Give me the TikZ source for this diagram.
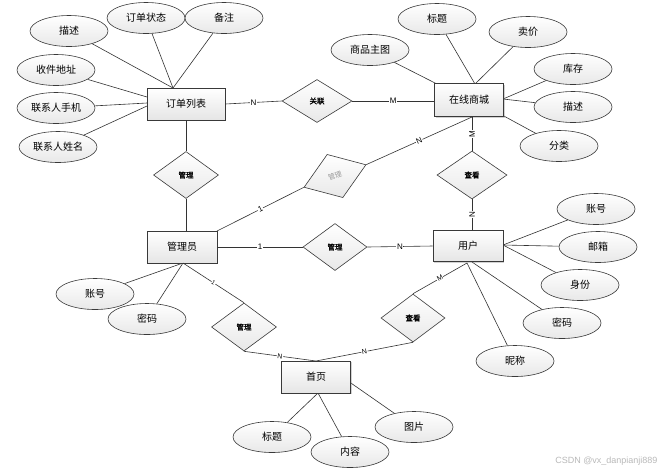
\documentclass[tikz,border=0pt]{standalone}
\usepackage{fontspec}
\setmainfont{Liberation Sans}
\newfontfamily\cjk{Noto Sans CJK SC}
\newfontfamily\cjkb[FakeBold=1.5]{Noto Sans CJK SC}
\usetikzlibrary{shapes.geometric,shadows}
\tikzset{
  ent/.style={draw=gray!45!black, line width=0.8pt, minimum width=70pt, minimum height=32pt,
    inner sep=0pt, top color=white, bottom color=gray!20,
    font=\cjk\fontsize{10}{12}\selectfont,
    drop shadow={shadow xshift=1.2pt, shadow yshift=-1.2pt, opacity=0.35}},
  attr/.style={ellipse, draw=gray!45!black, line width=0.6pt, minimum width=78pt, minimum height=31pt,
    inner sep=0pt, top color=white, bottom color=gray!18,
    font=\cjk\fontsize{10}{12}\selectfont},
  rel/.style={diamond, draw=gray!45!black, line width=0.6pt, minimum width=65pt, minimum height=47pt,
    inner sep=0pt, top color=white, bottom color=gray!18,
    font=\cjkb\fontsize{7.5}{8}\selectfont},
  conn/.style={draw=gray!40!black, line width=0.6pt},
  card/.style={fill=white, inner sep=0.6pt, font=\fontsize{8}{9}\selectfont},
  wm/.style={text=gray!55, font=\fontsize{9}{10}\selectfont}
}
\begin{document}
\begin{tikzpicture}[x=1pt,y=-1pt]
\useasboundingbox[fill=white] (0,0) rectangle (671,475);

% ---------- convergence points ----------
\coordinate (ordT) at (173,88);
\coordinate (ordL1) at (147,97);
\coordinate (ordL2) at (147,103);
\coordinate (ordL3) at (147,106);
\coordinate (mallTL) at (437,84);
\coordinate (mallT) at (475,84);
\coordinate (mallR) at (503,99);
\coordinate (mallBR) at (502,115);
\coordinate (mallB) at (472,117);
\coordinate (usrR) at (503,245);
\coordinate (usrB1) at (472,262);
\coordinate (usrB2) at (467,263);
\coordinate (admB) at (183,263);
\coordinate (homeT) at (316,361);
\coordinate (homeB) at (318,393);
\coordinate (homeR) at (348,381);
\coordinate (admTR) at (217,231);

% ---------- attribute lines (drawn first) ----------
\node[attr] (oDesc) at (69,31) {描述};
\node[attr] (oStat) at (146,18) {订单状态};
\node[attr] (oNote) at (224,18) {备注};
\node[attr] (oAddr) at (56,70) {收件地址};
\node[attr] (oPhone) at (56,108) {联系人手机};
\node[attr] (oName) at (58,147) {联系人姓名};

\node[attr] (mImg) at (370,50) {商品主图};
\node[attr] (mTitle) at (437,19) {标题};
\node[attr] (mPrice) at (528,32) {卖价};
\node[attr] (mStock) at (573,69) {库存};
\node[attr] (mDesc) at (573,107) {描述};
\node[attr] (mCat) at (559,146) {分类};

\node[attr] (uAcc) at (596,209) {账号};
\node[attr] (uMail) at (598,247) {邮箱};
\node[attr] (uRole) at (580,285) {身份};
\node[attr] (uPwd) at (562,323) {密码};
\node[attr] (uNick) at (515,361) {昵称};

\node[attr] (aAcc) at (95,294) {账号};
\node[attr] (aPwd) at (147,319) {密码};

\node[attr] (hTitle) at (272,437) {标题};
\node[attr] (hCont) at (350,452) {内容};
\node[attr] (hPic) at (414,427) {图片};

\draw[conn] (oDesc) -- (ordT);
\draw[conn] (oStat) -- (ordT);
\draw[conn] (oNote) -- (ordT);
\draw[conn] (oAddr) -- (ordL1);
\draw[conn] (oPhone) -- (ordL2);
\draw[conn] (oName) -- (ordL3);

\draw[conn] (mImg) -- (mallTL);
\draw[conn] (mTitle) -- (mallT);
\draw[conn] (mPrice) -- (mallT);
\draw[conn] (mStock) -- (mallR);
\draw[conn] (mDesc) -- (mallR);
\draw[conn] (mCat) -- (mallBR);

\draw[conn] (uAcc) -- (usrR);
\draw[conn] (uMail) -- (usrR);
\draw[conn] (uRole) -- (usrR);
\draw[conn] (uPwd) -- (usrB1);
\draw[conn] (uNick) -- (usrB2);

\draw[conn] (aAcc) -- (admB);
\draw[conn] (aPwd) -- (admB);

\draw[conn] (hTitle) -- (homeB);
\draw[conn] (hCont) -- (homeB);
\draw[conn] (hPic) -- (homeR);

% ---------- entities ----------
\node[ent, minimum width=78pt] (ord) at (186,104) {订单列表};
\node[ent, minimum width=69pt, minimum height=33pt] (mall) at (469,100) {在线商城};
\node[ent] (adm) at (182,247) {管理员};
\node[ent, minimum height=31pt] (usr) at (468,246) {用户};
\node[ent, minimum width=69pt] (home) at (316,377) {首页};

% ---------- relationships ----------
\node[rel, minimum width=70pt, minimum height=43pt] (rOM) at (317,101) {关联};
\node[rel] (rOA) at (186,175) {管理};
\node[rel, minimum width=66pt, minimum height=46pt, rotate=20, font=\cjk\fontsize{7}{8}\selectfont, text=gray!80] (rAM) at (335,176) {管理};
\node[rel, minimum width=70pt, minimum height=48pt] (rMU) at (472,175) {查看};
\node[rel, minimum width=64pt] (rAU) at (335,247) {管理};
\node[rel, minimum height=48pt] (rAH) at (244,327) {管理};
\node[rel, minimum width=64pt, minimum height=48pt] (rUH) at (413,318) {查看};

% ---------- relationship connectors ----------
\draw[conn] (ord.east) -- node[card] {N} (rOM.west);
\draw[conn] (rOM.east) -- node[card] {M} (rOM.east -| mall.west);
\draw[conn] (ord.south) -- (rOA.north);
\draw[conn] (rOA.south) -- (rOA.south |- adm.north);
\draw[conn] (admTR) -- node[card, sloped] {1} (rAM.west);
\draw[conn] (rAM.east) -- node[card, sloped] {N} (mallB);
\draw[conn] (mallB) -- node[card, rotate=90] {M} (rMU.north);
\draw[conn] (rMU.south) -- node[card, rotate=90] {N} (rMU.south |- usr.north);
\draw[conn] (adm.east) -- node[card] {1} (rAU.west);
\draw[conn] (rAU.east) -- node[card] {N} (usr.west);
\draw[conn] (admB) -- node[card, sloped, font=\fontsize{6}{7}\selectfont] {1} (rAH.north);
\draw[conn] (rAH.south) -- node[card, sloped, font=\fontsize{7}{8}\selectfont] {N} (homeT);
\draw[conn] (rUH.north) -- node[card, sloped, font=\fontsize{7}{8}\selectfont] {M} (usrB2);
\draw[conn] (rUH.south) -- node[card, sloped, font=\fontsize{7}{8}\selectfont] {N} (homeT);

% ---------- watermark ----------
\node[wm, anchor=east] (wmark) at (661,461) {CSDN @vx\_danpianji889};
\end{tikzpicture}
\end{document}
